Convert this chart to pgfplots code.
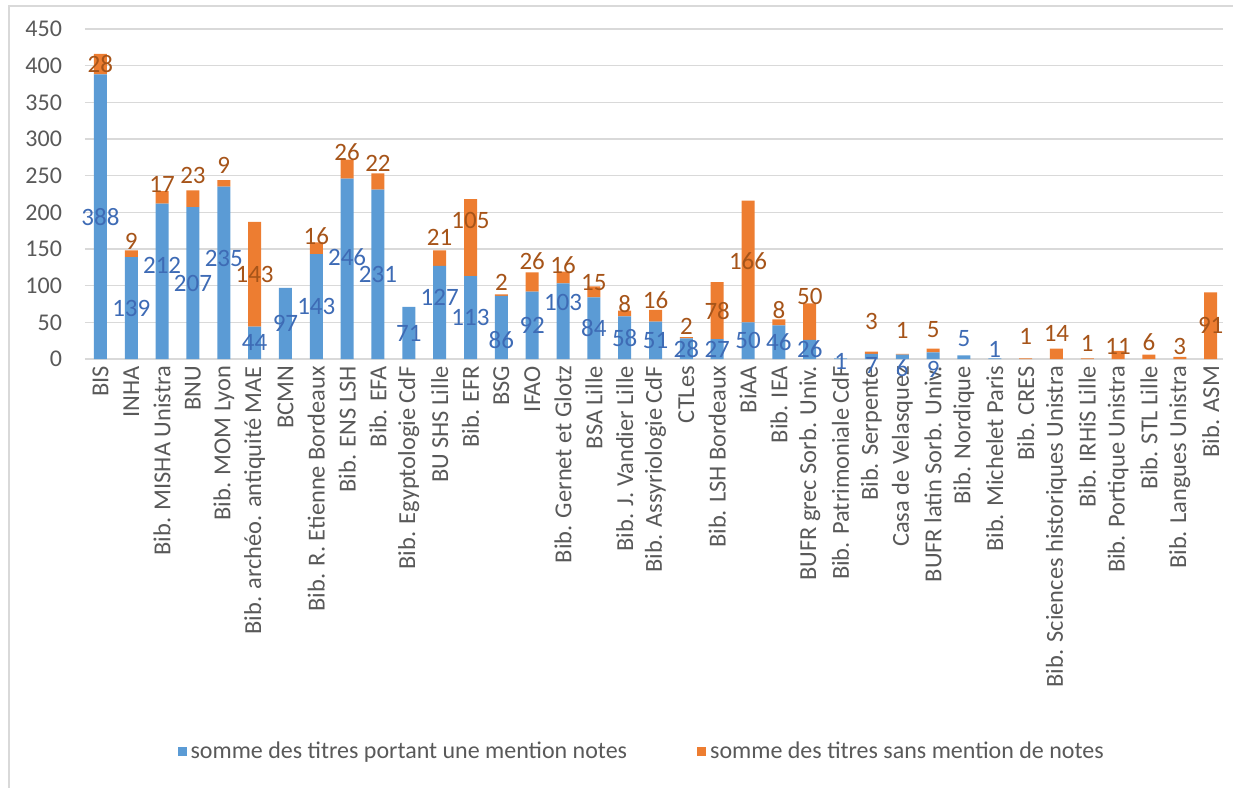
\documentclass[border=0pt]{standalone}
\usepackage{fontspec}
\setmainfont{Carlito}
\usepackage{pgfplots}
\usepackage{pgfplotstable}
\pgfplotsset{compat=1.18}

\definecolor{bleu}{HTML}{5B9BD5}
\definecolor{orange}{HTML}{ED7D31}
\definecolor{bleutxt}{HTML}{3E6BB5}
\definecolor{orangetxt}{HTML}{A65419}
\definecolor{grille}{HTML}{D9D9D9}
\definecolor{gristxt}{HTML}{595959}

% a = avec mention notes, b = sans mention ; ad/bd = decalage vertical des etiquettes
\pgfplotstableread{
x  a    b    ad   bd
0  388  28   0    0
1  139  9    0    17
2  212  17   21   18
3  207  23   0    32
4  235  9    20   25
5  44   143  0    0
6  97   0    0    0
7  143  16   0    17
8  246  26   16   23
9  231  22   0    25
10 71   0    0    0
11 127  21   20   29
12 113  105  0    23
13 86   2    -17  17
14 92   26   0    29
15 103  16   25   17
16 84   15   0    13
17 58   8    0    13
18 51   16   0    21
19 28   2    0    16
20 27   78   0    0
21 50   166  0    0
22 46   8    0    17
23 26   50   0    34
24 1    0    -4   0
25 7    3    -13  43
26 6    1    -15  32
27 9    5    -19  28
28 5    0    25   0
29 1    0    13   0
30 0    1    0    30
31 0    14   0    28
32 0    1    0    21
33 0    11   0    12
34 0    6    0    20
35 0    3    0    15
36 0    91   0    0
}\donnees

\tikzset{check for zero/.code={\pgfmathfloatifflags{\pgfplotspointmeta}{0}{\pgfkeys{/tikz/coordinate}}{}}}

\begin{document}
\begin{tikzpicture}
\useasboundingbox (0,0) rectangle (616.5pt,-394pt);
\draw[grille, line width=1pt] (4.5pt,-3pt) rectangle (700pt,-500pt);
\begin{axis}[
  at={(42.5pt,-179.5pt)}, anchor=south west,
  scale only axis, width=569pt, height=165pt,
  ybar stacked, bar width=6.5pt,
  xmin=-0.5, xmax=36.4, ymin=0, ymax=450,
  ytick={0,50,...,450},
  xtick={0,...,36},
  xticklabels={BIS, INHA, Bib. MISHA Unistra, BNU, Bib. MOM Lyon,
    Bib. archéo. antiquité MAE, BCMN, Bib. R. Etienne Bordeaux, Bib. ENS LSH,
    Bib. EFA, Bib. Egyptologie CdF, BU SHS Lille, Bib. EFR, BSG, IFAO,
    Bib. Gernet et Glotz, BSA Lille, Bib. J. Vandier Lille, Bib. Assyriologie CdF,
    CTLes, Bib. LSH Bordeaux, BiAA, Bib. IEA, BUFR grec Sorb. Univ.,
    Bib. Patrimoniale CdF, Bib. Serpente, Casa de Velasquez, BUFR latin Sorb. Univ.,
    Bib. Nordique, Bib. Michelet Paris, Bib. CRES, Bib. Sciences historiques Unistra,
    Bib. IRHiS Lille, Bib. Portique Unistra, Bib. STL Lille, Bib. Langues Unistra,
    Bib. ASM},
  xticklabel style={rotate=90, anchor=east, font=\fontsize{12.2}{12}\selectfont, text=gristxt},
  yticklabel style={font=\fontsize{12}{12}\selectfont, text=gristxt, xshift=-8pt},
  /pgf/number format/assume math mode=true,
  ymajorgrids, grid style={grille, line width=0.75pt},
  axis x line*=bottom, axis y line*=left,
  x axis line style={grille, line width=0.75pt},
  y axis line style={draw=none},
  major tick length=0pt,
  clip=false,
  nodes near coords style={font=\fontsize{12.5}{12}\selectfont},
  legend style={at={(0.49,-1.19)}, anchor=center, draw=none, fill=none,
    legend columns=2, font=\fontsize{12}{12}\selectfont, text=gristxt,
    /tikz/every even column/.append style={column sep=33pt}},
  legend image code/.code={\fill[#1] (0pt,-2.3pt) rectangle (4.5pt,2.3pt);},
]
% les etiquettes sont deja centrees dans chaque segment : on n'ajoute que le decalage
\addplot[fill=bleu, draw=none, point meta=explicit, nodes near coords,
  visualization depends on={\thisrow{ad} \as \dy},
  every node near coord/.append style={text=bleutxt, anchor=center,
    shift={(axis direction cs:0,\dy)}, check for zero}]
  table[x=x, y=a, meta=a] {\donnees};
\addlegendentry{somme des titres portant une mention notes}
\addplot[fill=orange, draw=none, point meta=explicit, nodes near coords,
  visualization depends on={\thisrow{bd} \as \dy},
  every node near coord/.append style={text=orangetxt, anchor=center,
    shift={(axis direction cs:0,\dy)}, check for zero}]
  table[x=x, y=b, meta=b] {\donnees};
\addlegendentry{somme des titres sans mention de notes}
\end{axis}
\end{tikzpicture}
\end{document}
